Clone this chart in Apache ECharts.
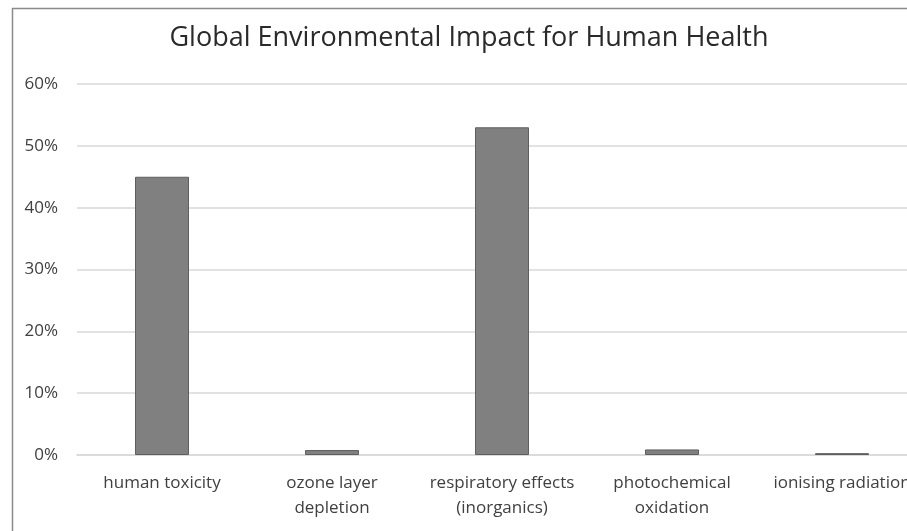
<!DOCTYPE html>
<html><head><meta charset="utf-8">
<script src="https://cdn.jsdelivr.net/npm/echarts@6/dist/echarts.min.js"></script>
<style>html,body{margin:0;padding:0;background:#fff;overflow:hidden;width:907px;height:531px}#c{width:927px;height:531px}</style>
</head><body><div id="c"></div>
<script>
const categories = ["human toxicity", "ozone layer\ndepletion", "respiratory effects\n(inorganics)", "photochemical\noxidation", "ionising radiation"];
const values = [0.45, 0.008, 0.53, 0.009, 0.003];
const yMin = 0, yMax = 0.6, yStep = 0.1;
const titleText = "Global Environmental Impact for Human Health";

const chart = echarts.init(document.getElementById('c'), null, {renderer: 'canvas'});
chart.setOption({
  backgroundColor: '#ffffff',
  animation: false,
  graphic: [{
    type: 'rect', left: 10, top: 6, silent: true, z: -1,
    shape: {width: 2000, height: 1000},
    style: {fill: 'none', stroke: '#8a8a8a', lineWidth: 1.5}
  }],
  title: {
    text: titleText, left: 464, top: 20, textAlign: 'center',
    textStyle: {fontFamily: 'Open Sans', fontSize: 27, fontWeight: 'normal', color: '#2a2a2a'}
  },
  grid: {left: 77, top: 84, bottom: 76, right: 0, containLabel: false},
  xAxis: {
    type: 'category', data: categories,
    axisLine: {show: true, lineStyle: {color: '#d9d9d9', width: 1.5}},
    axisTick: {show: false},
    axisLabel: {interval: 0, margin: 16, fontFamily: 'Open Sans', fontSize: 17, color: '#404040', lineHeight: 25}
  },
  yAxis: {
    type: 'value', min: yMin, max: yMax, interval: yStep,
    axisLine: {show: false}, axisTick: {show: false},
    splitLine: {lineStyle: {color: '#d9d9d9', width: 1.5}},
    axisLabel: {margin: 19, fontFamily: 'Open Sans', fontSize: 17, color: '#404040',
      formatter: v => Math.round(v * 100) + '%'}
  },
  series: [{
    type: 'bar', data: values, barWidth: 54,
    itemStyle: {color: '#808080', borderColor: '#5e5e5e', borderWidth: 1}
  }]
});
</script></body></html>
